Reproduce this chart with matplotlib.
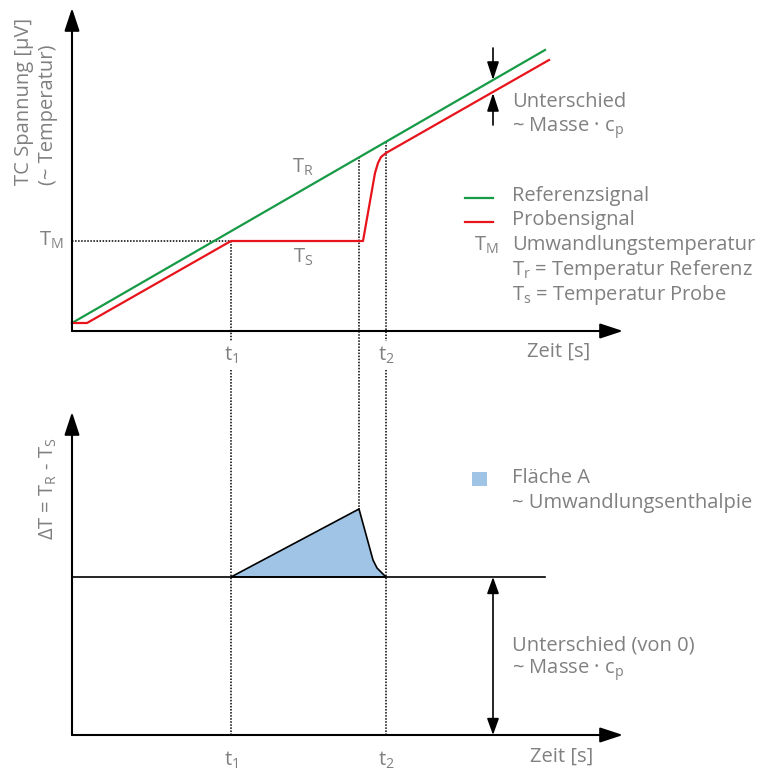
import matplotlib.pyplot as plt
from matplotlib.patches import Rectangle

plt.rcParams['font.family'] = ['Open Sans', 'DejaVu Sans']
plt.rcParams['mathtext.fontset'] = 'custom'
plt.rcParams['mathtext.rm'] = 'Open Sans'
plt.rcParams['mathtext.it'] = 'Open Sans'

# schematic data (panel units, origin at the axis corner)
t_ref = [0, 473]
T_ref = [8, 281]
t_probe = [0, 15, 159, 291, 303, 306, 309, 314, 477]
T_probe = [8, 8, 90, 90, 158, 168, 174, 178, 271]
T_M = 90
t1, t_peak, t2 = 159, 287, 314

t_dT = [159, 287, 301, 305, 314]
dT = [158, 226, 175, 167, 158]
baseline = 158
t_end = 473

GREEN = '#179a45'
RED = '#e8141c'
BLUE = '#9fc4e6'
GRAY = '#808080'
FS = 14.5
W, H = 771, 774

fig = plt.figure(figsize=(W / 100, H / 100), dpi=100)
ax1 = fig.add_axes([72 / W, 1 - 331 / H, 568 / W, 331 / H])
ax2 = fig.add_axes([72 / W, 1 - 735 / H, 568 / W, 375 / H])
ax1.set_xlim(0, 568)
ax1.set_ylim(0, 331)
ax2.set_xlim(0, 568)
ax2.set_ylim(0, 375)
for ax in (ax1, ax2):
    ax.axis('off')


def arrow(ax, start, tip, lw=1.5, hl=14, hw=4.6):
    ax.annotate('', xy=tip, xytext=start, annotation_clip=False,
                arrowprops=dict(arrowstyle=f'-|>,head_length={hl},head_width={hw}',
                                mutation_scale=1, lw=lw, color='black',
                                shrinkA=0, shrinkB=0))


def txt(x, y, s, size=FS, **kw):
    kw.setdefault('va', 'center')
    fig.text(x / W, 1 - y / H, s, fontsize=size, color=GRAY, **kw)


dot = dict(color='black', lw=1.1, ls=(0, (1, 1)), clip_on=False)

# top panel
ax1.plot([0, t1], [T_M, T_M], **dot)
ax1.plot([t1, t1], [T_M, -10], **dot)
ax1.plot([t2, t2], [T_ref[0] + (T_ref[1] - T_ref[0]) * t2 / t_ref[1], -10], **dot)

# dotted line from the reference line down to the peak of the lower panel
y_green = T_ref[0] + (T_ref[1] - T_ref[0]) * t_peak / t_ref[1]
peak_disp = ax2.transData.transform((t_peak, max(dT)))
y_peak_in_ax1 = ax1.transData.inverted().transform(peak_disp)[1]
ax1.plot([t_peak, t_peak], [y_green, y_peak_in_ax1], **dot)

ax1.plot(t_ref, T_ref, color=GREEN, lw=1.6, clip_on=False)
ax1.plot(t_probe, T_probe, color=RED, lw=1.6, clip_on=False)
arrow(ax1, (0, 0), (551, 0))
arrow(ax1, (0, 0), (0, 323))
arrow(ax1, (421, 283), (421, 251), lw=1.2, hl=11, hw=3.6)
arrow(ax1, (421, 206), (421, 238), lw=1.2, hl=11, hw=3.6)

# lower panel
ax2.fill(t_dT, dT, facecolor=BLUE, edgecolor='black', lw=1.2, zorder=2)
ax2.plot([0, t_end], [baseline, baseline], color='black', lw=1.2)
ax2.plot([t1, t1], [0, 365], **dot)
ax2.plot([t2, t2], [0, 365], **dot)
arrow(ax2, (0, 0), (551, 0))
arrow(ax2, (0, 0), (0, 323))
ax2.annotate('', xy=(421, 0), xytext=(421, baseline), annotation_clip=False,
             arrowprops=dict(arrowstyle='<|-|>,head_length=10,head_width=3.6',
                             mutation_scale=1, lw=1.2, color='black',
                             shrinkA=0, shrinkB=0))

# texts
txt(24, 185, 'TC Spannung [µV]', rotation=90, rotation_mode='anchor', ha='left')
txt(48, 185, '(~ Temperatur)', rotation=90, rotation_mode='anchor', ha='left')
txt(64, 240, r'T$_\mathregular{M}$', ha='right')
txt(303, 167, r'T$_\mathregular{R}$', ha='center')
txt(303, 257, r'T$_\mathregular{S}$', ha='center')
txt(512, 102, 'Unterschied')
txt(512, 128, r'~ Masse · c$_\mathregular{p}$')
txt(512, 196, 'Referenzsignal')
txt(512, 220, 'Probensignal')
txt(474, 245, r'T$_\mathregular{M}$')
txt(512, 245, 'Umwandlungstemperatur')
txt(512, 270, r'T$_\mathregular{r}$ = Temperatur Referenz')
txt(512, 295, r'T$_\mathregular{s}$ = Temperatur Probe')
fig.add_artist(plt.Line2D([465 / W, 493 / W], [1 - 198 / H] * 2, color=GREEN, lw=1.6))
fig.add_artist(plt.Line2D([465 / W, 493 / W], [1 - 222 / H] * 2, color=RED, lw=1.6))
txt(231, 355, r't$_\mathregular{1}$', ha='center')
txt(386, 355, r't$_\mathregular{2}$', ha='center')
txt(527, 352, 'Zeit [s]')

txt(48, 540, r'ΔT = T$_\mathregular{R}$ - T$_\mathregular{S}$', rotation=90,
    rotation_mode='anchor', ha='left')
fig.add_artist(Rectangle((472 / W, 1 - 486 / H), 15 / W, 14 / H,
                         facecolor=BLUE, edgecolor='none'))
txt(512, 478, 'Fläche A')
txt(512, 503, '~ Umwandlungsenthalpie')
txt(512, 645, 'Unterschied (von 0)')
txt(512, 670, r'~ Masse · c$_\mathregular{p}$')
txt(231, 760, r't$_\mathregular{1}$', ha='center')
txt(386, 760, r't$_\mathregular{2}$', ha='center')
txt(530, 757, 'Zeit [s]')

fig.savefig('out.png', dpi=100)
